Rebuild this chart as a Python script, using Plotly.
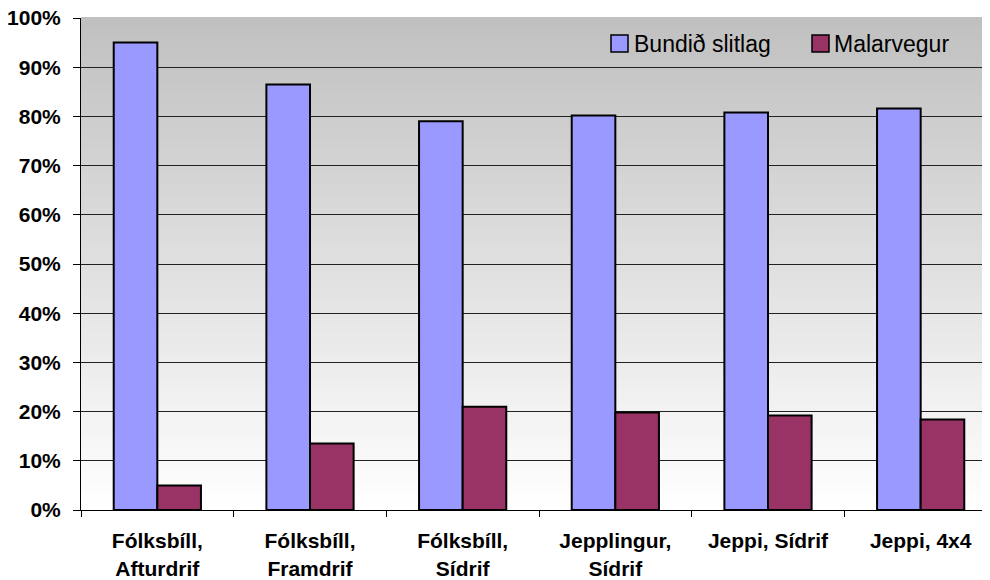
import plotly.graph_objects as go

categories = ["Fólksbíll,<br>Afturdrif", "Fólksbíll,<br>Framdrif", "Fólksbíll,<br>Sídrif",
              "Jepplingur,<br>Sídrif", "Jeppi, Sídrif", "Jeppi, 4x4"]
bundid = [0.95, 0.865, 0.79, 0.802, 0.808, 0.816]
malar = [0.05, 0.135, 0.21, 0.198, 0.192, 0.184]
series_names = ["Bundið slitlag", "Malarvegur"]
series_colors = ["#9999FF", "#993366"]
y_ticks = [i / 10 for i in range(11)]
y_ticklabels = [f"{i*10}%" for i in range(11)]

fig = go.Figure()
for vals, name, col in zip([bundid, malar], series_names, series_colors):
    fig.add_trace(go.Bar(x=categories, y=vals, name=name, showlegend=False,
                         marker=dict(color=col, line=dict(color="black", width=2))))

# gradient background (gray top -> white bottom)
shapes = []
n = 80
for i in range(n):
    t0 = i / n
    t1 = (i + 1) / n
    frac = (t0 + t1) / 2
    c = int(round(255 - (255 - 192) * frac))
    shapes.append(dict(type="rect", xref="paper", yref="paper", x0=0, x1=1, y0=t0, y1=t1 + 0.002,
                       fillcolor=f"rgb({c},{c},{c})", line=dict(width=0), layer="below"))

# page has an 8px body margin; target screen coords of plot area
OFF = 8
SL, ST, SB, SR = 81, 18, 510, 997  # screen coords
L, T, B = SL - OFF, ST - OFF, SB - OFF
W = SR - SL
H = SB - ST

def px(x):
    return (x - SL) / W
def py(y):
    return (SB - y) / H

legend_sym_x = [611, 812]
legend_txt_x = [632, 832]
annotations = []
for sx, tx, name, col in zip(legend_sym_x, legend_txt_x, series_names, series_colors):
    shapes.append(dict(type="rect", xref="paper", yref="paper", x0=px(sx), x1=px(sx + 17),
                       y0=py(52), y1=py(35), fillcolor=col, line=dict(color="black", width=1.5),
                       layer="above"))
    annotations.append(dict(xref="paper", yref="paper", x=px(tx), y=py(44), xanchor="left",
                            yanchor="middle", text=name, showarrow=False,
                            font=dict(family="Liberation Sans, Arial, sans-serif", size=23,
                                      color="black")))

font_bold = dict(family="Liberation Sans, Arial, sans-serif", size=21, color="black", weight="bold")

fig.update_layout(
    width=990, height=580,
    margin=dict(l=L, r=990 - L - W, t=T, b=580 - B),
    paper_bgcolor="white", plot_bgcolor="white",
    barmode="group", bargap=0.4286, bargroupgap=0,
    shapes=shapes, annotations=annotations,
    showlegend=False,
    xaxis=dict(type="category", range=[-0.5, 5.5], showline=True, linecolor="black", linewidth=1,
               ticks="outside", ticklen=6, tickcolor="black", tickson="boundaries",
               tickfont=font_bold, showgrid=False, fixedrange=True, automargin=False,
               ticklabelstandoff=12, ticklabeloverflow="allow"),
    yaxis=dict(range=[0, 1], tickvals=y_ticks, ticktext=y_ticklabels, showline=True,
               linecolor="black", linewidth=1, ticks="outside", ticklen=7, tickcolor="black",
               showgrid=True, gridcolor="#222222", gridwidth=1, tickfont=font_bold,
               ticklabelstandoff=8, zeroline=False, automargin=False,
               ticklabeloverflow="allow"),
)

fig.write_html("out.html")
